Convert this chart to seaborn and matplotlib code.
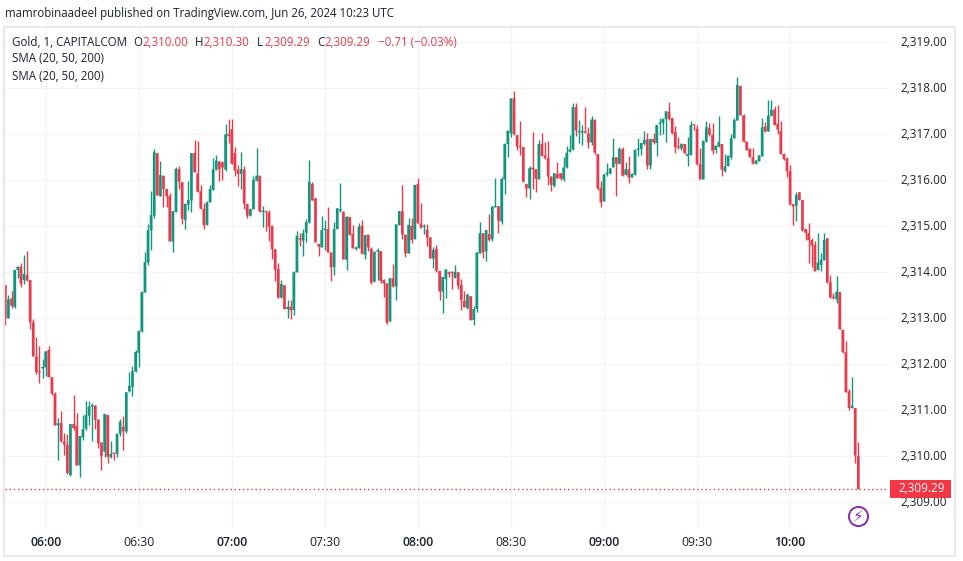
import numpy as np
import pandas as pd
import matplotlib
matplotlib.use('Agg')
import matplotlib.pyplot as plt
import matplotlib.transforms as mtransforms
from matplotlib.patches import Rectangle
import seaborn as sns

# prices are stored above this base, one value per 1-minute candle
base_price = 2300

open_prices = [
    13.72,13.00,13.43,13.25,14.05,14.12,13.83,13.94,13.83,12.91,12.17,11.83,11.91,11.93,12.31,11.72,11.36,10.67,10.72,10.32,
    10.25,9.59,10.70,10.66,9.80,10.41,10.60,10.88,11.08,11.10,10.80,10.30,10.10,10.90,9.98,10.06,10.05,10.49,10.64,10.54,
    11.41,11.51,11.84,12.25,12.71,13.56,14.21,14.91,15.23,16.59,15.65,16.10,15.81,15.66,14.67,15.31,16.24,15.96,15.14,15.47,
    15.56,16.59,16.15,15.76,15.38,15.03,15.52,15.79,16.23,16.41,16.39,16.23,17.00,17.11,16.59,16.23,16.14,16.23,15.49,15.23,
    15.37,15.99,16.10,15.31,15.31,15.30,15.01,14.50,14.07,13.45,13.72,13.20,13.25,13.18,14.00,14.74,14.69,14.86,15.08,15.92,
    15.61,14.62,14.54,14.92,14.94,14.43,14.11,14.94,15.34,15.32,14.27,15.20,14.83,14.51,14.52,15.01,14.38,14.82,14.51,13.80,
    14.45,14.46,13.83,13.76,12.93,13.87,13.69,15.03,15.33,14.82,14.41,15.01,14.72,15.92,15.06,14.99,14.92,14.76,14.30,14.51,
    14.03,13.58,13.85,14.00,13.99,13.88,14.00,13.72,13.38,13.22,13.48,12.96,13.20,14.41,14.85,14.45,14.83,14.72,15.41,15.44,
    15.10,16.02,16.79,17.02,17.78,16.98,16.73,16.72,15.92,15.82,16.26,16.24,16.02,16.79,16.54,16.48,16.08,15.88,16.14,16.15,
    16.02,16.28,16.62,16.67,17.59,17.04,17.04,17.04,17.02,16.82,17.32,16.57,15.83,15.54,16.13,16.15,16.28,16.50,16.36,16.68,
    16.12,16.24,16.06,16.12,16.66,16.68,16.79,16.89,16.32,16.90,16.81,17.22,17.24,17.33,17.49,17.35,17.05,16.72,16.69,16.79,
    16.52,16.55,17.20,17.12,16.35,16.02,16.84,17.13,16.99,16.66,16.73,16.79,16.20,16.31,16.50,16.91,17.30,18.05,17.41,16.84,
    16.68,16.50,16.36,16.41,16.52,17.17,17.06,17.40,17.54,17.23,17.07,16.57,16.48,16.20,15.48,15.45,15.74,15.57,14.94,14.85,
    14.70,14.60,14.05,14.16,14.26,14.74,13.78,13.46,13.41,13.57,12.75,12.26,11.41,11.05,11.05,10.00,
]
high_prices = [
    13.72,13.50,13.59,14.05,14.14,14.21,14.38,14.46,13.83,12.98,12.59,12.40,12.11,12.28,12.40,11.72,11.39,10.83,10.99,10.50,
    10.49,10.70,11.33,10.94,10.44,10.90,11.20,11.20,11.15,11.12,10.80,10.30,10.92,10.90,10.34,10.06,10.49,10.82,10.88,11.39,
    11.83,11.96,12.31,12.75,13.59,14.43,15.05,15.77,16.68,16.59,16.42,16.10,15.81,15.72,15.33,16.28,16.31,15.96,15.49,15.99,
    16.59,16.88,16.86,15.90,15.50,15.55,15.90,16.48,16.55,16.41,16.41,17.23,17.33,17.33,16.72,16.33,16.62,16.30,15.49,15.39,
    16.10,16.70,16.10,15.43,15.36,15.36,15.01,14.50,14.20,13.83,13.72,13.40,13.40,14.02,14.89,14.85,14.94,15.15,16.44,15.97,
    15.61,14.62,15.23,15.14,15.41,14.43,15.10,15.39,15.94,15.32,15.23,15.20,15.03,14.56,15.07,15.14,14.81,14.82,14.54,14.45,
    14.53,14.46,13.85,13.76,13.87,14.18,15.04,15.33,15.89,14.82,15.19,15.17,15.90,16.04,15.50,15.05,15.04,14.76,14.54,14.59,
    14.03,13.90,14.06,14.02,14.02,14.15,14.00,13.85,13.59,13.52,13.48,13.27,14.43,15.09,14.85,14.92,15.27,15.43,16.04,15.44,
    16.06,16.80,17.08,17.78,17.94,16.98,17.28,16.72,15.92,16.31,17.05,16.24,16.88,17.02,16.84,16.85,16.09,16.15,16.40,16.15,
    16.50,16.75,16.98,17.69,17.69,17.31,17.20,17.59,17.15,17.40,17.32,16.57,15.99,16.13,16.37,16.26,16.91,16.50,16.72,16.73,
    16.39,16.52,16.15,16.68,16.91,16.81,17.07,17.02,16.90,17.02,17.20,17.35,17.35,17.50,17.70,17.35,17.18,16.93,16.81,16.79,
    16.94,17.28,17.20,17.20,16.70,16.86,17.29,17.24,17.24,16.77,17.40,16.79,16.57,16.55,17.00,17.36,18.24,18.05,17.44,16.84,
    16.70,16.70,16.43,16.54,17.35,17.26,17.75,17.75,17.62,17.63,17.28,16.59,16.48,16.33,15.48,15.74,15.74,15.57,14.94,15.07,
    14.74,14.67,14.85,14.41,14.85,14.74,13.94,13.55,13.92,13.57,12.75,12.51,11.46,11.72,11.05,10.30,
]
low_prices = [
    12.85,13.00,13.22,13.23,13.87,13.67,13.75,13.80,12.77,12.17,11.79,11.60,11.70,11.75,11.72,11.34,10.67,9.92,10.32,10.03,
    9.62,9.56,10.57,9.80,9.54,10.35,10.57,10.68,10.34,10.59,10.17,9.70,9.98,9.85,9.96,9.91,9.99,10.43,10.14,10.51,
    11.39,11.32,11.84,11.93,12.71,13.56,14.15,14.49,15.17,15.67,15.65,15.41,15.41,14.67,14.45,15.31,15.81,15.05,14.95,15.36,
    15.32,16.17,15.74,15.38,14.94,15.03,15.52,15.79,16.23,15.99,16.01,16.21,16.81,16.36,16.10,15.88,15.81,15.37,15.17,15.23,
    15.37,15.99,15.32,14.99,14.89,14.69,14.29,13.82,13.45,13.44,13.20,13.00,12.98,13.07,14.00,14.58,14.36,14.65,15.08,15.56,
    14.65,14.36,14.54,14.49,14.43,13.81,13.94,14.94,15.32,14.28,14.05,14.81,14.52,14.49,14.52,14.40,14.29,14.47,13.75,13.78,
    13.83,13.77,13.47,12.88,12.93,13.69,13.40,15.03,14.72,14.34,14.41,14.64,14.72,15.06,14.97,14.83,14.56,14.30,14.09,14.01,
    13.40,13.12,13.43,13.90,13.64,13.88,13.63,13.17,13.24,13.21,12.96,12.85,13.14,14.41,14.30,14.25,14.69,14.69,15.41,14.86,
    15.05,15.70,16.50,16.95,16.98,16.66,16.55,15.97,15.64,15.59,15.82,15.75,16.02,16.53,16.46,15.90,15.77,15.85,16.04,16.01,
    15.98,16.26,16.62,16.66,16.97,16.82,16.77,17.02,16.71,16.77,16.56,15.79,15.41,15.54,16.10,16.14,16.28,15.65,16.36,16.10,
    16.12,15.95,16.06,16.12,16.52,16.54,16.77,16.24,16.24,16.79,16.53,16.99,17.01,16.83,17.31,17.00,16.59,16.68,16.66,16.57,
    16.30,16.55,17.10,16.33,16.02,16.02,16.84,16.97,16.57,16.59,16.72,16.10,16.18,16.31,16.46,16.91,17.30,17.41,16.84,16.65,
    16.50,16.35,16.36,16.41,16.52,17.04,17.06,17.40,17.20,17.01,16.57,16.43,16.08,15.47,15.02,15.12,15.57,14.89,14.70,14.21,
    14.12,14.02,14.05,14.02,14.26,13.76,13.44,13.41,13.33,12.76,12.24,11.39,11.00,11.05,9.85,9.29,
]
close_prices = [
    13.00,13.41,13.27,14.05,14.12,13.75,13.96,13.82,12.91,12.17,11.83,11.82,11.93,12.28,11.72,11.36,10.67,10.72,10.32,10.25,
    9.64,10.70,10.61,9.80,10.44,10.59,10.90,11.08,11.10,10.79,10.28,10.01,10.92,9.99,10.05,10.05,10.49,10.75,10.54,11.39,
    11.53,11.85,12.27,12.72,13.57,14.22,14.91,15.24,16.61,15.67,16.11,15.81,15.65,14.67,15.33,16.25,15.97,15.16,15.49,15.57,
    16.59,16.17,15.75,15.38,15.02,15.52,15.81,16.24,16.43,16.24,16.28,17.00,16.96,16.36,16.21,16.14,16.24,15.49,15.23,15.37,
    16.01,16.10,15.32,15.32,15.30,14.99,14.50,14.05,13.45,13.74,13.20,13.25,13.17,14.00,14.79,14.71,14.85,15.09,15.96,15.56,
    14.65,14.56,14.92,14.94,14.43,14.11,14.94,15.39,15.35,14.28,15.21,14.81,14.52,14.54,14.99,14.40,14.81,14.54,13.77,14.45,
    14.47,13.81,13.76,12.90,13.87,13.69,15.04,15.33,14.82,14.41,15.03,14.70,15.90,15.06,14.97,15.01,14.75,14.30,14.48,14.03,
    13.58,13.90,14.06,13.96,13.98,14.01,13.71,13.40,13.24,13.52,12.96,13.20,14.43,14.85,14.43,14.92,14.70,15.43,15.43,15.12,
    16.03,16.79,17.08,17.78,17.00,16.73,16.71,15.97,15.82,16.26,16.24,16.03,16.79,16.53,16.48,16.08,15.90,16.15,16.04,16.04,
    16.28,16.60,16.67,17.59,17.08,17.05,17.05,17.03,16.82,17.32,16.60,15.82,15.52,16.13,16.17,16.26,16.50,16.36,16.68,16.10,
    16.24,16.06,16.14,16.66,16.69,16.81,16.88,16.32,16.90,16.82,17.20,17.24,17.33,17.50,17.33,17.02,16.72,16.71,16.79,16.59,
    16.57,17.20,17.19,16.35,16.02,16.86,17.15,16.99,16.64,16.75,16.83,16.23,16.30,16.53,16.91,17.31,18.07,17.41,16.84,16.65,
    16.50,16.36,16.43,16.54,17.15,17.06,17.40,17.53,17.20,17.10,16.57,16.46,16.20,15.47,15.43,15.68,15.57,14.91,14.85,14.70,
    14.58,14.02,14.21,14.27,14.70,13.78,13.45,13.44,13.58,12.76,12.26,11.39,11.05,11.10,10.02,9.29,
]

price_ticks = [2309, 2310, 2311, 2312, 2313, 2314, 2315, 2316, 2317, 2318, 2319]
time_positions = [13, 43, 73, 103, 133, 163, 193, 223, 253]
time_labels = ['06:00', '06:30', '07:00', '07:30', '08:00', '08:30', '09:00', '09:30', '10:00']

up_color = '#12947d'
down_color = '#e9394b'
grid_color = '#f3f4f8'
text_color = '#1c2030'

sns.set_theme(style='white')
plt.rcParams['font.family'] = ['Open Sans', 'DejaVu Sans']

df = pd.DataFrame({
    'minute': np.arange(len(open_prices)),
    'open': base_price + np.array(open_prices),
    'high': base_price + np.array(high_prices),
    'low': base_price + np.array(low_prices),
    'close': base_price + np.array(close_prices),
})
df['bottom'] = df[['open', 'close']].min(axis=1)
df['body'] = (df['open'] - df['close']).abs().clip(lower=0.03)
df['rising'] = df['close'] >= df['open']

W, H = 963, 561
fig = plt.figure(figsize=(W / 100, H / 100), dpi=100)
ax = fig.add_axes([5 / W, 1 - 528 / H, 884 / W, 500 / H])

# wicks first, then the bodies on top
for rising, color in [(True, up_color), (False, down_color)]:
    part = df[df['rising'] == rising]
    ax.vlines(part['minute'], part['low'], part['high'], color=color, lw=1.0, zorder=2)
    sns.barplot(data=part, x='minute', y='body', bottom=part['bottom'].values, native_scale=True,
                color=color, saturation=1, width=0.85, errorbar=None, linewidth=0, ax=ax, zorder=3)
# no pixel snapping, the bodies should keep an even width
for bar in ax.patches:
    bar.set_snap(False)

ax.set_xlim(-0.1, 284.9)
ax.set_ylim(2308.44, 2319.31)
ax.set_xlabel('')
ax.set_ylabel('')

ax.set_xticks(time_positions)
ax.set_xticklabels(time_labels, fontsize=8.8, color=text_color)
for label, text in zip(ax.get_xticklabels(), time_labels):
    if text.endswith(':00'):
        label.set_fontweight('semibold')
ax.yaxis.tick_right()
ax.set_yticks(price_ticks)
ax.set_yticklabels([f'{p:,.2f}' for p in price_ticks], fontsize=8.5, color=text_color)
ax.tick_params(axis='x', length=0, pad=6)
ax.tick_params(axis='y', length=0, pad=8)
# the price labels sit a little above their grid lines
lift = mtransforms.ScaledTranslation(0, 1.5 / 100, fig.dpi_scale_trans)
for label in ax.get_yticklabels():
    label.set_transform(label.get_transform() + lift)
ax.grid(True, color=grid_color, lw=0.9)
ax.set_axisbelow(True)
sns.despine(ax=ax, left=True, bottom=True, right=True, top=True)

# last price line and its tag
last = df['close'].iloc[-1]
ax.axhline(last, color=down_color, lw=1, ls=(0, (1, 2)), zorder=1)
trans = mtransforms.blended_transform_factory(ax.transAxes, ax.transData)
ax.add_patch(Rectangle((1.001, last - 0.2), 61 / 884, 0.4, transform=trans, color='#f23645',
                       clip_on=False, zorder=5, lw=0))
ax.text(1.001 + 32 / 884, last, f'{last:,.2f}', transform=trans, color='white', fontsize=8.5,
        ha='center', va='center', zorder=6, clip_on=False)

# purple bolt marker below the last candle
ax.scatter([df['minute'].iloc[-1]], [2308.70], s=190, facecolor='white', edgecolor='#8e2aa8', lw=1.4, zorder=4)
ax.text(df['minute'].iloc[-1], 2308.70, '\u26a1', color='#8e2aa8', fontsize=11, ha='center', va='center',
        family='DejaVu Sans', zorder=5)

# outer frame of the widget
fig.add_artist(Rectangle((4 / W, 1 - 556 / H), 951 / W, 529 / H, transform=fig.transFigure,
                         fill=False, edgecolor='#e8e9ed', lw=1.6))

fig.text(5 / W, 1 - 14 / H, 'mamrobinaadeel published on TradingView.com, Jun 26, 2024 10:23 UTC',
         fontsize=8.3, color=text_color, va='center')

# legend lines, the OHLC numbers are red for a falling candle
y_line = 1 - 42 / H
fig.text(12 / W, y_line, 'Gold, 1, CAPITALCOM', fontsize=8.3, color=text_color, va='center')
for px, part, color in [(133, 'O', text_color), (142, '2,310.00', down_color),
                        (195, 'H', text_color), (203, '2,310.30', down_color),
                        (257, 'L', text_color), (264, '2,309.29', down_color),
                        (317, 'C', text_color), (324, '2,309.29', down_color),
                        (378, '\u22120.71 (\u22120.03%)', down_color)]:
    fig.text(px / W, y_line, part, fontsize=8.3, color=color, va='center')
fig.text(12 / W, 1 - 59 / H, 'SMA (20, 50, 200)', fontsize=8.3, color=text_color, va='center')
fig.text(12 / W, 1 - 76 / H, 'SMA (20, 50, 200)', fontsize=8.3, color=text_color, va='center')

fig.savefig('out.png', dpi=100)
